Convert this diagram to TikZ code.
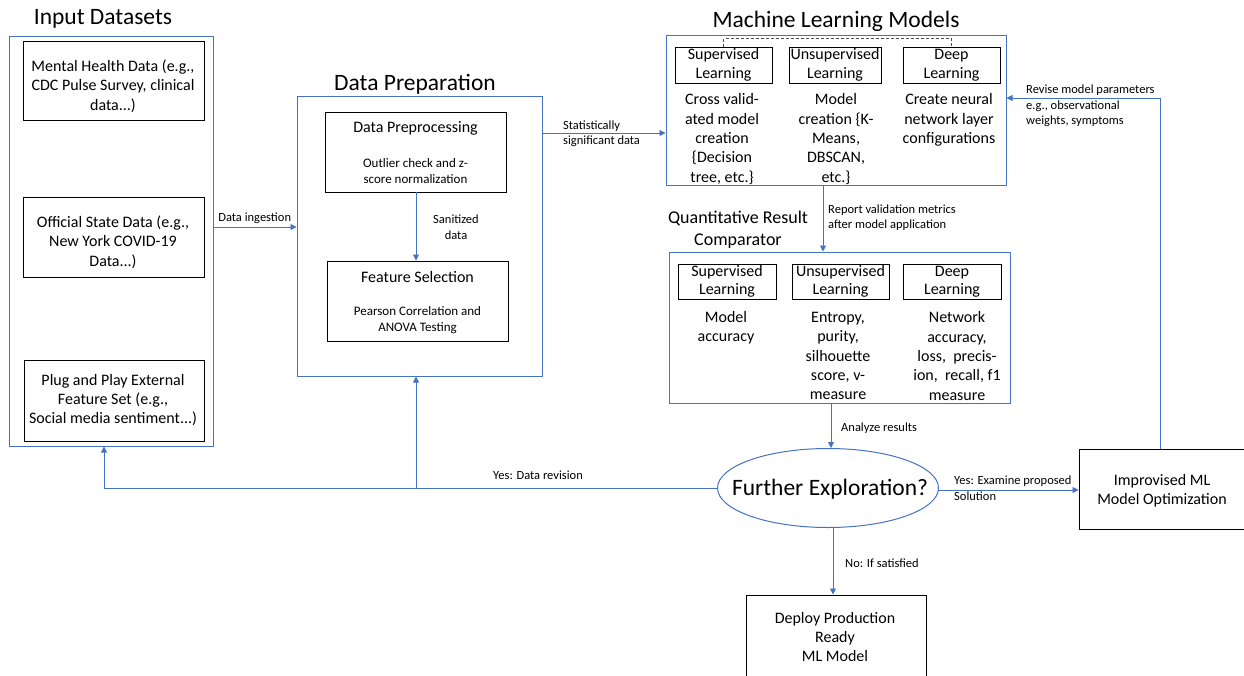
\documentclass[tikz,border=0pt]{standalone}
\usepackage{fontspec}
\setmainfont{Carlito}
\usetikzlibrary{arrows.meta,shapes.geometric,calc}
\definecolor{lblue}{RGB}{68,114,196}
\begin{document}
\begin{tikzpicture}[x=1pt,y=-1pt,
  outer/.style={draw=lblue, line width=1pt, inner sep=0pt},
  inbox/.style={draw=black, line width=1pt, inner sep=0pt},
  arr/.style={draw=lblue, line width=0.9pt, -{Triangle[width=6pt,length=6pt]}},
  bline/.style={draw=lblue, line width=0.9pt},
  title/.style={font=\fontsize{23.5}{28}\selectfont, inner sep=0pt},
  subtitle/.style={font=\fontsize{18}{22}\selectfont, inner sep=0pt, align=center},
  body/.style={font=\fontsize{16}{19.3}\selectfont, align=center, inner sep=0pt},
  note/.style={font=\fontsize{13}{16}\selectfont, align=center, inner sep=0pt},
  lab/.style={font=\fontsize{12.5}{15.5}\selectfont, align=left, inner sep=0pt},
  sub/.style={draw=black, line width=1pt, inner sep=0pt, align=center,
    font=\fontsize{16}{18.5}\selectfont}
]
\useasboundingbox (0,0) rectangle (1244,675);

% ---------- Input Datasets ----------
\node[title] (tIn) at (103,19) {Input Datasets};
\node[outer, minimum width=204pt, minimum height=410pt] (in) at (111,241) {};
\node[inbox, minimum width=181pt, minimum height=79pt] (b1) at (113.5,80.5) {};
\node[body] (b1t) at (113,86) {Mental Health Data (e.g.,\\CDC Pulse Survey, clinical\\data...)};
\node[inbox, minimum width=181pt, minimum height=80pt] (b2) at (113.5,237) {};
\node[body] (b2t) at (113,242) {Official State Data (e.g.,\\New York COVID-19\\Data...)};
\node[inbox, minimum width=180pt, minimum height=81pt] (b3) at (114,400.5) {};
\node[body] (b3t) at (113,400) {Plug and Play External\\Feature Set (e.g.,\\Social media sentiment...)};

% ---------- Data Preparation ----------
\node[title] (tPrep) at (415,84) {Data Preparation};
\node[outer, minimum width=245pt, minimum height=280pt] (prep) at (419.5,236) {};
\node[inbox, minimum width=181pt, minimum height=80pt] (pre) at (415.5,152) {};
\node[body] (pret) at (415.5,128) {Data Preprocessing};
\node[note] (pren) at (415.5,171) {Outlier check and z-\\score normalization};
\node[inbox, minimum width=181pt, minimum height=80pt] (fs) at (417.5,301) {};
\node[body] (fst) at (417.5,277) {Feature Selection};
\node[note] (fsn) at (417.5,320) {Pearson Correlation and\\ANOVA Testing};

% ---------- Machine Learning Models ----------
\node[title] (tML) at (836,21) {Machine Learning Models};
\node[outer, minimum width=340pt, minimum height=150pt] (ml) at (836,110) {};
\node[sub, minimum width=97pt, minimum height=36pt] (s1) at (723.5,65) {Supervised\\Learning};
\node[sub, minimum width=92pt, minimum height=36pt] (s2) at (835,65) {Unsupervised\\Learning};
\node[sub, minimum width=97pt, minimum height=36pt] (s3) at (951.5,65) {Deep\\Learning};
\node[body] (m1) at (722,139) {Cross valid-\\ated model\\creation\\\{Decision\\tree, etc.\}};
\node[body] (m2) at (836,139) {Model\\creation \{K-\\Means,\\DBSCAN,\\etc.\}};
\node[body] (m3) at (949,120) {Create neural\\network layer\\configurations};
\draw[gray!60!black, line width=0.8pt, dash pattern=on 3pt off 2pt]
  (s1.north) -- ++(0,-8) -| (s3.north);

% ---------- Comparator ----------
\node[subtitle] (tCmp) at (738,230) {Quantitative Result\\Comparator};
\node[outer, minimum width=341pt, minimum height=151pt] (cmp) at (839.5,327.5) {};
\node[sub, minimum width=98pt, minimum height=35pt] (c1) at (727,281.5) {Supervised\\Learning};
\node[sub, minimum width=97pt, minimum height=35pt] (c2) at (840.5,281.5) {Unsupervised\\Learning};
\node[sub, minimum width=98pt, minimum height=35pt] (c3) at (952,281.5) {Deep\\Learning};
\node[body] (r1) at (726,328) {Model\\accuracy};
\node[body] (r2) at (838,356) {Entropy,\\purity,\\silhouette\\score, v-\\measure};
\node[body] (r3) at (957,356) {Network\\accuracy,\\loss,\ \ precis-\\ion,\ \ recall, f1\\measure};

% ---------- Decision and outcomes ----------
\node[draw=lblue, line width=1pt, ellipse, minimum width=221pt, minimum height=79pt,
  inner sep=0pt] (fx) at (828,488) {};
\node[title] (fxt) at (830,489) {Further Exploration?};
\node[inbox, minimum width=172pt, minimum height=80pt] (imp) at (1165,489) {};
\node[body] (impt) at (1162,491) {Improvised ML\\Model Optimization};
\node[inbox, minimum width=180pt, minimum height=95pt] (dep) at (836,642.5) {};
\node[body] (dept) at (835,637) {Deploy Production\\Ready\\ML Model};

% ---------- Connectors ----------
\coordinate (inA) at (213,227);
\draw[arr] (inA) -- (inA -| prep.west) node[lab, pos=0.5, above=3pt] (lIngest) {Data ingestion};

\coordinate (ppA) at (542,133);
\draw[arr] (ppA) -- (ppA -| ml.west);
\node[lab] (lStat) at (563,133.5) [anchor=west] {Statistically\\significant data};

\coordinate (san) at (416,192);
\draw[arr] (san) -- (san |- fs.north);
\node[note, font=\fontsize{12.5}{15.5}\selectfont] (lSan) at (456,227) {Sanitized\\data};

\coordinate (mlB) at (823,185);
\draw[arr] (mlB) -- (mlB |- cmp.north);
\node[lab] (lRep) at (828,217.5) [anchor=west] {Report validation metrics\\after model application};

\coordinate (cmpB) at (831,403);
\draw[arr] (cmpB) -- (cmpB |- fx.north);
\node[lab] (lAna) at (841,428) [anchor=west] {Analyze results};

\coordinate (back) at (104,488);
\coordinate (branch) at (416,488);
\draw[arr] (fx.west) -- (back) -- (back |- in.south);
\draw[arr] (branch) -- (branch |- prep.south);
\node[lab] (lRev) at (538,475) {Yes: Data revision};

\coordinate (fxE) at (938,490);
\draw[arr] (fxE) -- (fxE -| imp.west);
\node[lab] (lExam) at (954,488) [anchor=west] {Yes: Examine proposed\\Solution};

\coordinate (impN) at (1160,449);
\coordinate (turn) at (1160,98);
\draw[arr] (impN) -- (turn) -- (turn -| ml.east);
\node[lab] (lRevise) at (1026,106) [anchor=west] {Revise model parameters\\e.g., observational\\weights, symptoms};

\coordinate (fxS) at (833,527);
\draw[arr] (fxS) -- (fxS |- dep.north);
\node[lab] (lNo) at (845,563) [anchor=west] {No: If satisfied};
\end{tikzpicture}
\end{document}
